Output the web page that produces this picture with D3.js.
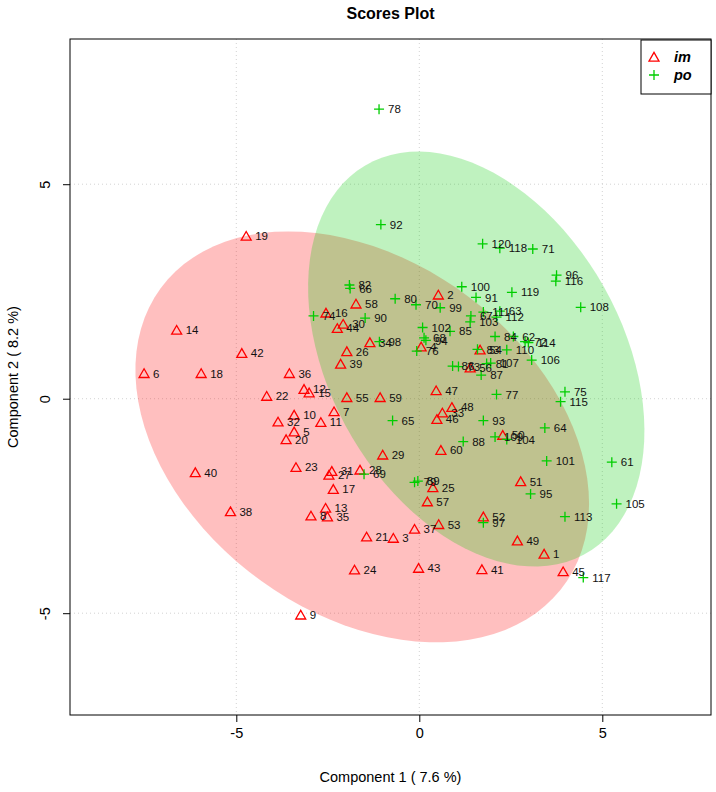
<!DOCTYPE html>
<html><head><meta charset="utf-8">
<script src="https://cdn.jsdelivr.net/npm/d3@7"></script>
<style>body{margin:0;background:#fff}svg{display:block}text{font-family:"Liberation Sans",Arial,sans-serif}</style>
</head><body>
<div id="chart"></div>
<script>
// ---- data ----
const groups = ["im", "po"];
const imIds = d3.range(1, 61);
const imX = [3.41,0.52,-0.71,0.05,-3.42,-7.52,-2.33,-2.96,-3.24,-3.42,-2.69,-3.15,-2.56,-6.63,-3.01,-2.55,-2.35,-5.96,-4.73,-3.64,
  -1.44,-4.17,-3.37,-1.77,0.37,-1.98,-2.47,-1.62,-1.00,-2.08,-2.39,-3.86,0.63,-1.35,-2.51,-3.55,-0.13,-5.16,-2.15,-6.12,
  1.71,-4.85,-0.02,-2.24,3.93,0.48,0.46,0.89,2.68,2.28,2.77,1.75,0.53,1.66,-1.98,1.39,0.22,-1.73,-1.07,0.59];
const imY = [-3.62,2.42,-3.25,1.21,-0.77,0.59,-0.30,-2.73,-5.04,-0.38,-0.55,0.22,-2.55,1.60,0.14,2.00,-2.11,0.59,3.79,-0.95,
  -3.22,0.06,-1.60,-3.99,-2.07,1.10,-1.78,-1.66,-1.31,1.74,-1.69,-0.54,-0.33,1.31,-2.75,0.59,-3.04,-2.63,0.81,-1.72,
  -3.98,1.06,-3.95,1.64,-4.03,-0.48,0.19,-0.20,-3.31,-0.85,-1.93,-2.75,-2.93,1.14,0.03,0.72,-2.40,2.21,0.03,-1.20];
const poIds = d3.range(61, 121);
const poX = [5.26,2.57,2.20,3.43,-0.73,-1.89,1.41,0.13,-1.51,-0.09,3.10,2.89,1.07,-2.89,3.98,-0.07,2.11,-1.10,-0.13,-0.66,
  1.84,-1.91,1.59,2.07,0.84,0.91,1.69,1.20,-0.04,-1.48,1.55,-1.05,1.75,0.18,3.04,3.75,1.75,-1.09,0.57,1.16,
  3.48,0.09,1.39,2.39,5.39,3.07,1.95,4.41,2.07,2.39,1.75,2.11,3.98,2.98,3.86,3.73,4.48,2.20,2.53,1.73];
const poY = [-1.48,1.45,2.04,-0.68,-0.51,2.57,1.93,1.42,-1.76,2.19,3.49,1.33,0.75,1.93,0.16,1.11,0.10,6.75,-1.95,2.33,
  0.82,2.65,1.15,1.45,1.57,0.76,0.55,-1.00,-1.92,1.88,2.36,4.06,-0.51,1.36,-2.22,2.88,-2.89,1.33,2.12,2.61,
  -1.45,1.66,1.79,-0.95,-2.45,0.90,0.83,2.13,-0.89,1.14,2.02,1.90,-2.75,1.31,-0.07,2.74,-4.17,3.51,2.48,3.61];
const xTicks = [-5, 0, 5];
const yTicks = [-5, 0, 5];
const xLimits = [-9.544, 7.970];
const yLimits = [-7.373, 8.385];
const titleText = "Scores Plot";
const xTitle = "Component 1 ( 7.6 %)";
const yTitle = "Component 2 ( 8.2 %)";
const colors = ["#FF0000", "#00CD00"];

// ---- layout ----
const W = 716, H = 792;
const L = 70, R = 711, T = 39, B = 715;
const svg = d3.select("#chart").append("svg").attr("width", W).attr("height", H);
const x = d3.scaleLinear().domain(xLimits).range([L, R]);
const y = d3.scaleLinear().domain(yLimits).range([B, T]);

const series = [
  {name: groups[0], ids: imIds, xs: imX, ys: imY, color: colors[0]},
  {name: groups[1], ids: poIds, xs: poX, ys: poY, color: colors[1]}
];

// 95% confidence ellipse (same construction as ellipse::ellipse)
function ellipsePts(xs, ys) {
  const n = xs.length, mx = d3.mean(xs), my = d3.mean(ys);
  let sxx = 0, syy = 0, sxy = 0;
  for (let i = 0; i < n; i++) { const dx = xs[i]-mx, dy = ys[i]-my; sxx += dx*dx; syy += dy*dy; sxy += dx*dy; }
  sxx /= n-1; syy /= n-1; sxy /= n-1;
  const s1 = Math.sqrt(sxx), s2 = Math.sqrt(syy), r = sxy/(s1*s2), d = Math.acos(r);
  const t = Math.sqrt(5.991464547);
  const pts = [];
  for (let k = 0; k < 100; k++) {
    const a = 2*Math.PI*k/99;
    pts.push([mx + t*s1*Math.cos(a + d/2), my + t*s2*Math.cos(a - d/2)]);
  }
  return pts;
}

svg.append("clipPath").attr("id", "clip").append("rect")
  .attr("x", L).attr("y", T).attr("width", R-L).attr("height", B-T);

// grid
const grid = svg.append("g").attr("stroke", "#D3D3D3").attr("stroke-dasharray", "1,3").attr("stroke-width", 1);
grid.selectAll(".gx").data(xTicks).join("line").attr("x1", d => x(d)).attr("x2", d => x(d)).attr("y1", T).attr("y2", B);
grid.selectAll(".gy").data(yTicks).join("line").attr("y1", d => y(d)).attr("y2", d => y(d)).attr("x1", L).attr("x2", R);

// ellipses
const eg = svg.append("g").attr("clip-path", "url(#clip)");
series.forEach(s => {
  const pts = ellipsePts(s.xs, s.ys);
  eg.append("path").attr("d", d3.line().x(p => x(p[0])).y(p => y(p[1]))(pts) + "Z")
    .attr("fill", s.color).attr("fill-opacity", 0.25).attr("stroke", "none");
});

// markers
const triPath = "M0,-4.6L5,4.1L-5,4.1Z";
const plusPath = "M-5,0H5M0,-5V5";
series.forEach((s, gi) => {
  svg.append("g").selectAll("path").data(s.ids).join("path")
    .attr("transform", (d, i) => `translate(${x(s.xs[i])},${y(s.ys[i])})`)
    .attr("d", gi === 0 ? triPath : plusPath)
    .attr("fill", "none").attr("stroke", s.color).attr("stroke-width", 1.3);
});
// labels
series.forEach(s => {
  svg.append("g").selectAll("text").data(s.ids).join("text")
    .attr("x", (d, i) => x(s.xs[i]) + 9).attr("y", (d, i) => y(s.ys[i]))
    .attr("dy", "0.36em").attr("font-size", 11.5).attr("fill", "#111").text(d => d);
});

// frame
svg.append("rect").attr("x", L).attr("y", T).attr("width", R-L).attr("height", B-T)
  .attr("fill", "none").attr("stroke", "#000").attr("stroke-width", 1);

// axes
const xa = svg.append("g").attr("transform", `translate(0,${B})`)
  .call(d3.axisBottom(x).tickValues(xTicks).tickSize(7).tickPadding(6));
const ya = svg.append("g").attr("transform", `translate(${L},0)`)
  .call(d3.axisLeft(y).tickValues(yTicks).tickSize(7).tickPadding(6));
[xa, ya].forEach(a => {
  a.select(".domain").remove();
  a.selectAll("text").attr("font-size", 14.5).attr("font-family", '"Liberation Sans",Arial,sans-serif').attr("fill", "#000")
    .text(d => d < 0 ? "-" + Math.abs(d) : String(d));
  a.selectAll("line").attr("stroke", "#000");
});
ya.selectAll(".tick text").attr("transform", "rotate(-90)").attr("x", 0).attr("y", -25)
  .attr("dy", "0.32em").attr("text-anchor", "middle");

// titles
svg.append("text").attr("x", (L+R)/2).attr("y", 19).attr("text-anchor", "middle")
  .attr("font-size", 16).attr("font-weight", "bold").text(titleText);
svg.append("text").attr("x", (L+R)/2).attr("y", 782).attr("text-anchor", "middle")
  .attr("font-size", 14.5).text(xTitle);
svg.append("text").attr("transform", `translate(18,${(T+B)/2}) rotate(-90)`).attr("text-anchor", "middle")
  .attr("font-size", 14.5).text(yTitle);

// legend
const lg = svg.append("g");
lg.append("rect").attr("x", 641).attr("y", T+1).attr("width", R-641).attr("height", 54)
  .attr("fill", "#fff").attr("stroke", "#000").attr("stroke-width", 1);
series.forEach((s, i) => {
  const cy = 57 + i*18;
  lg.append("path").attr("transform", `translate(654,${cy})`).attr("d", i === 0 ? triPath : plusPath)
    .attr("fill", "none").attr("stroke", s.color).attr("stroke-width", 1.3);
  lg.append("text").attr("x", 674).attr("y", cy).attr("dy", "0.36em").attr("font-size", 14.5)
    .attr("font-weight", "bold").attr("font-style", "italic").text(s.name);
});
</script>
</body></html>
